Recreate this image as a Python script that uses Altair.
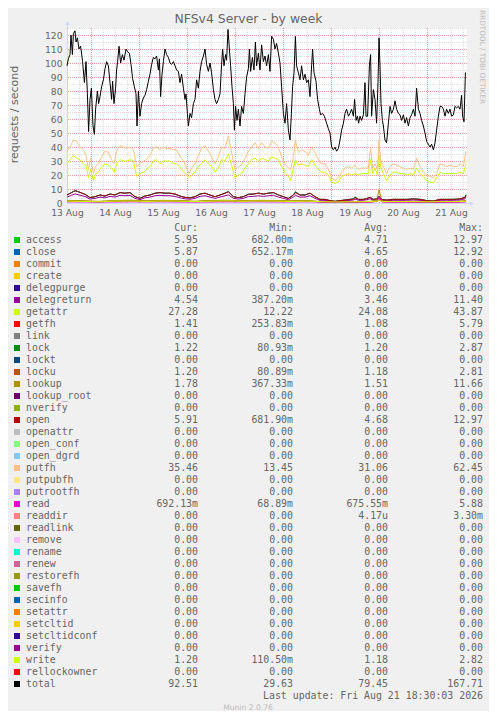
import json
import altair as alt
import pandas as pd

# ---------------- text ----------------
TITLE = "NFSv4 Server - by week"
Y_TITLE = "requests / second"
WATERMARK = "RRDTOOL / TOBI OETIKER"
FOOTER = "Munin 2.0.76"
LAST_UPDATE = "Last update: Fri Aug 21 18:30:03 2026"

# x axis: hours since 13 Aug 00:00; labels sit at noon of each day
X_LABELS = ["13 Aug", "14 Aug", "15 Aug", "16 Aug", "17 Aug", "18 Aug", "19 Aug", "20 Aug", "21 Aug"]
X_LABEL_HOURS = [12, 36, 60, 84, 108, 132, 156, 180, 204]
X_DOMAIN = [12, 212]
Y_TICKS = [0, 10, 20, 30, 40, 50, 60, 70, 80, 90, 100, 110, 120]
Y_DOMAIN = [0, 125]

# ---------------- legend table ----------------
HEADERS = ["Cur:", "Min:", "Avg:", "Max:"]
NAMES = ["access", "close", "commit", "create", "delegpurge", "delegreturn", "getattr", "getfh",
         "link", "lock", "lockt", "locku", "lookup", "lookup_root", "nverify", "open", "openattr",
         "open_conf", "open_dgrd", "putfh", "putpubfh", "putrootfh", "read", "readdir", "readlink",
         "remove", "rename", "renew", "restorefh", "savefh", "secinfo", "setattr", "setcltid",
         "setcltidconf", "verify", "write", "rellockowner", "total"]
COLORS = ["#00CC00", "#0066B3", "#FF8000", "#FFCC00", "#330099", "#990099", "#CCFF00", "#FF0000",
          "#808080", "#008F00", "#00487D", "#B35A00", "#B38F00", "#6B006B", "#8FB300", "#B30000",
          "#BEBEBE", "#80FF80", "#80C9FF", "#FFC080", "#FFE680", "#AA80FF", "#EE00CC", "#FF8080",
          "#666600", "#FFBFFF", "#00FFCC", "#CC6699", "#999900", "#00CC00", "#0066B3", "#FF8000",
          "#FFCC00", "#330099", "#990099", "#CCFF00", "#FF0000", "#000000"]
Z = "0.00"
CUR = ["5.95", "5.87", Z, Z, Z, "4.54", "27.28", "1.41", Z, "1.22", Z, "1.20", "1.78", Z, Z, "5.91",
       Z, Z, Z, "35.46", Z, Z, "692.13m", Z, Z, Z, Z, Z, Z, Z, Z, Z, Z, Z, Z, "1.20", Z, "92.51"]
MIN = ["682.00m", "652.17m", Z, Z, Z, "387.20m", "12.22", "253.83m", Z, "80.93m", Z, "80.89m",
       "367.33m", Z, Z, "681.90m", Z, Z, Z, "13.45", Z, Z, "68.89m", Z, Z, Z, Z, Z, Z, Z, Z, Z, Z,
       Z, Z, "110.50m", Z, "29.63"]
AVG = ["4.71", "4.65", Z, Z, Z, "3.46", "24.08", "1.08", Z, "1.20", Z, "1.18", "1.51", Z, Z, "4.68",
       Z, Z, Z, "31.06", Z, Z, "675.55m", "4.17u", Z, Z, Z, Z, Z, Z, Z, Z, Z, Z, Z, "1.18", Z, "79.45"]
MAX = ["12.97", "12.92", Z, Z, Z, "11.40", "43.87", "5.79", Z, "2.87", Z, "2.81", "11.66", Z, Z,
       "12.97", Z, Z, Z, "62.45", Z, Z, "5.88", "3.30m", Z, Z, Z, Z, Z, Z, Z, Z, Z, Z, Z, "2.82", Z,
       "167.71"]

# ---------------- series (hours since 13 Aug 00:00, requests/s) ----------------
TOTAL_H = [12.0, 12.7, 13.5, 14.0, 14.7, 15.2, 16.0, 16.5, 17.2, 18.0,
           18.8, 19.8, 20.7, 21.5, 22.2, 22.8, 23.5, 24.2, 25.0, 25.7,
           26.3, 27.2, 27.8, 28.5, 29.3, 30.2, 31.0, 31.8, 32.7, 33.5,
           34.3, 34.8, 35.5, 36.3, 36.8, 37.3, 38.0, 38.8, 39.7, 40.5,
           41.5, 42.3, 43.2, 44.0, 44.8, 45.7, 46.5, 47.0, 47.7, 48.5,
           49.3, 50.2, 51.0, 51.8, 52.7, 53.5, 54.3, 55.2, 56.0, 56.8,
           57.7, 58.2, 58.8, 59.5, 60.2, 61.0, 61.8, 62.7, 63.5, 64.3,
           65.2, 66.0, 66.8, 67.7, 68.5, 69.3, 70.2, 71.0, 71.5, 72.2,
           72.7, 73.5, 74.3, 75.2, 76.0, 76.8, 77.7, 78.5, 79.3, 80.2,
           81.0, 81.8, 82.7, 83.5, 84.3, 85.2, 86.0, 86.8, 87.7, 88.5,
           89.3, 89.8, 90.5, 91.3, 91.8, 92.5, 93.2, 93.8, 94.5, 95.2,
           95.7, 96.3, 97.0, 97.7, 98.5, 99.3, 100.2, 101.0, 101.8, 102.7,
           103.2, 103.8, 104.7, 105.5, 106.2, 106.8, 107.7, 108.5, 109.3, 110.2,
           111.0, 111.8, 112.7, 113.5, 114.3, 115.2, 116.0, 116.8, 117.7, 118.5,
           119.3, 120.2, 121.0, 121.8, 122.7, 123.5, 124.2, 124.8, 125.5, 126.2,
           126.8, 127.7, 128.5, 129.3, 130.2, 131.0, 131.8, 132.7, 133.5, 134.3,
           134.8, 135.5, 136.5, 137.3, 138.2, 138.8, 139.8, 140.7, 141.8, 142.7,
           143.5, 144.3, 145.2, 146.0, 146.8, 147.7, 148.5, 149.3, 150.2, 151.0,
           151.8, 152.7, 153.5, 154.3, 155.2, 155.8, 156.5, 157.2, 157.8, 158.5,
           159.3, 160.2, 161.0, 161.5, 162.3, 163.2, 163.8, 164.3, 165.2, 166.0,
           166.8, 167.5, 168.0, 168.5, 169.0, 169.7, 170.2, 171.0, 171.8, 172.7,
           173.5, 174.3, 175.2, 176.0, 176.8, 177.7, 178.5, 179.3, 180.2, 181.0,
           181.8, 182.7, 183.5, 184.3, 185.2, 186.0, 186.8, 187.7, 188.5, 189.3,
           190.2, 191.0, 191.8, 192.7, 193.5, 194.3, 195.2, 196.0, 196.8, 197.7,
           198.5, 199.3, 200.2, 201.0, 201.8, 202.7, 203.5, 204.3, 205.2, 206.0,
           206.8, 207.7, 208.5, 209.3, 209.8, 210.5, 211.2, 211.5]
TOTAL_V = [98, 103, 106, 120, 106, 121, 123, 115, 118, 110,
           112, 101, 86, 101, 78, 51, 74, 82, 55, 49,
           67, 80, 71, 76, 83, 88, 96, 101, 98, 86,
           74, 87, 71, 82, 95, 101, 112, 100, 106, 102,
           110, 108, 107, 99, 89, 83, 78, 55, 80, 62,
           71, 75, 77, 81, 87, 92, 99, 104, 103, 105,
           95, 103, 76, 92, 101, 110, 106, 104, 100, 99,
           101, 98, 95, 94, 86, 92, 82, 74, 78, 64,
           55, 64, 61, 71, 74, 88, 82, 94, 101, 105,
           110, 99, 94, 100, 93, 81, 74, 71, 74, 78,
           99, 110, 98, 106, 102, 124, 110, 98, 83, 71,
           52, 69, 59, 67, 55, 69, 64, 78, 90, 96,
           110, 94, 104, 95, 115, 98, 107, 95, 113, 101,
           105, 98, 106, 94, 119, 117, 110, 114, 107, 100,
           83, 64, 57, 71, 52, 45, 64, 83, 93, 119,
           98, 93, 88, 98, 88, 92, 86, 88, 76, 98,
           110, 93, 87, 74, 67, 63, 64, 62, 57, 53,
           50, 40, 38, 40, 37, 39, 45, 52, 57, 64,
           67, 62, 64, 67, 62, 74, 59, 62, 57, 62,
           59, 63, 86, 62, 62, 98, 106, 62, 81, 74,
           57, 86, 118, 98, 71, 59, 55, 45, 43, 57,
           69, 64, 67, 73, 67, 64, 63, 59, 63, 57,
           61, 55, 61, 63, 67, 62, 82, 67, 64, 59,
           55, 50, 44, 42, 40, 42, 38, 43, 52, 62,
           69, 69, 67, 62, 67, 64, 67, 62, 63, 69,
           68, 69, 67, 77, 62, 58, 93, 93]

MID_H = [12.0, 13.5, 15.2, 16.8, 18.5, 20.2, 21.5, 22.7, 23.8, 25.2,
         26.3, 27.7, 29.3, 31.0, 32.7, 34.3, 35.5, 36.8, 38.5, 40.2,
         41.8, 43.5, 45.2, 46.8, 48.5, 50.2, 51.8, 53.5, 55.2, 56.8,
         58.5, 60.2, 61.8, 63.5, 65.2, 66.8, 68.5, 70.2, 71.8, 73.0,
         74.3, 76.0, 77.7, 79.3, 81.0, 82.7, 84.3, 86.0, 87.7, 89.3,
         91.0, 92.7, 94.3, 96.0, 97.7, 99.3, 101.0, 102.7, 104.3, 106.0,
         107.7, 109.3, 111.0, 112.7, 114.3, 116.0, 117.7, 119.3, 121.0, 122.7,
         123.8, 125.2, 126.2, 127.7, 129.3, 131.0, 132.7, 134.3, 136.0, 137.7,
         139.3, 141.0, 142.7, 144.3, 146.0, 147.7, 149.3, 151.0, 152.7, 154.3,
         156.0, 157.7, 159.3, 161.0, 162.7, 163.8, 164.8, 166.0, 167.2, 168.0,
         168.8, 170.2, 171.8, 173.5, 175.2, 176.8, 178.5, 180.2, 181.8, 183.5,
         185.2, 186.8, 188.5, 190.2, 191.8, 193.5, 195.2, 196.8, 198.5, 200.2,
         201.8, 203.5, 205.2, 206.8, 208.5, 210.2, 211.5]
PUTFH_V = [37, 40, 45, 44, 40, 38, 34, 24, 32, 21,
           26, 28, 33, 37, 36, 31, 28, 37, 41, 40,
           39, 40, 38, 26, 28, 30, 31, 34, 39, 40,
           38, 40, 39, 39, 38, 38, 33, 30, 25, 21,
           25, 28, 34, 39, 41, 37, 33, 28, 33, 40,
           39, 48, 36, 24, 26, 27, 32, 37, 40, 43,
           39, 43, 40, 39, 44, 43, 40, 33, 28, 25,
           24, 33, 45, 36, 38, 37, 34, 40, 36, 31,
           28, 28, 24, 18, 16, 18, 22, 25, 26, 25,
           27, 24, 25, 25, 25, 39, 25, 28, 24, 45,
           31, 26, 21, 26, 28, 27, 26, 25, 24, 25,
           24, 32, 26, 22, 20, 19, 18, 21, 28, 27,
           26, 27, 26, 26, 28, 26, 37]
GETATTR_V = [28, 31, 34, 32, 31, 28, 27, 18, 24, 16,
             21, 22, 26, 28, 27, 25, 22, 28, 31, 30,
             30, 31, 30, 19, 21, 22, 24, 26, 30, 31,
             28, 30, 30, 30, 28, 28, 26, 22, 20, 18,
             20, 22, 26, 28, 31, 28, 26, 22, 25, 31,
             30, 35, 27, 18, 20, 21, 25, 28, 31, 32,
             30, 32, 31, 30, 33, 32, 31, 26, 22, 19,
             16, 25, 31, 27, 28, 27, 26, 31, 27, 24,
             22, 22, 20, 15, 14, 15, 19, 20, 21, 20,
             21, 20, 21, 21, 21, 31, 21, 25, 20, 35,
             26, 21, 16, 20, 22, 22, 21, 21, 20, 21,
             20, 25, 21, 19, 16, 15, 14.5, 18, 22, 21,
             21, 21, 21, 21, 22, 21, 28]

SMALL_H = [12.0, 14.3, 16.0, 18.5, 21.0, 23.5, 26.0, 28.5, 31.0, 33.5,
           36.0, 38.5, 41.0, 43.5, 46.0, 48.5, 51.0, 53.5, 56.0, 58.5,
           61.0, 63.5, 66.0, 68.5, 71.0, 73.5, 76.0, 78.5, 81.0, 83.5,
           86.0, 88.5, 91.0, 92.7, 95.2, 97.7, 100.2, 102.7, 105.2, 107.7,
           110.2, 112.7, 115.2, 117.7, 120.2, 122.7, 125.2, 126.2, 128.5, 131.0,
           133.5, 136.0, 138.5, 141.0, 143.5, 146.0, 148.5, 151.0, 153.5, 155.2,
           156.0, 157.7, 160.2, 161.8, 163.5, 165.2, 166.8, 168.0, 169.3, 171.8,
           175.2, 178.5, 181.8, 185.2, 188.5, 191.8, 195.2, 198.5, 201.8, 205.2,
           208.5, 211.0, 211.5]
OPEN_V = [5.7, 7.4, 8.8, 7.6, 6.2, 3.8, 4.5, 5.7, 5.0, 6.4,
          5.7, 7.4, 7.0, 7.4, 4.5, 3.3, 5.0, 5.7, 7.0, 7.4,
          7.0, 7.0, 6.4, 5.0, 4.0, 3.6, 4.5, 6.4, 7.0, 5.7,
          4.5, 5.7, 7.0, 7.9, 4.5, 3.8, 4.5, 6.2, 6.4, 7.0,
          6.4, 7.0, 7.4, 5.7, 4.5, 3.3, 5.7, 7.4, 5.7, 5.7,
          7.0, 4.5, 2.6, 2.6, 1.7, 1.2, 1.7, 2.1, 2.6, 2.9,
          3.8, 2.6, 2.6, 3.1, 4.0, 2.6, 2.9, 4.5, 2.6, 2.1,
          2.6, 2.6, 2.6, 2.9, 2.6, 1.7, 1.4, 2.6, 2.6, 2.6,
          2.9, 4.0, 5.7]
ACCESS_V = [5.8, 7.5, 8.9, 7.6, 6.2, 3.8, 4.5, 5.8, 5.0, 6.4,
            5.8, 7.5, 7.0, 7.5, 4.5, 3.3, 5.0, 5.8, 7.0, 7.5,
            7.0, 7.0, 6.4, 5.0, 4.0, 3.6, 4.5, 6.5, 7.0, 5.7,
            4.5, 5.8, 7.1, 8.4, 4.5, 3.8, 4.6, 6.3, 6.4, 7.1,
            6.4, 7.1, 7.5, 5.7, 4.5, 3.3, 5.8, 8.1, 5.8, 5.7,
            7.1, 4.5, 2.6, 2.6, 1.7, 1.2, 1.7, 2.1, 2.6, 2.9,
            4.3, 2.6, 2.6, 3.2, 4.1, 2.6, 2.9, 5.0, 2.6, 2.1,
            2.7, 2.6, 2.6, 2.9, 2.7, 1.7, 1.4, 2.6, 2.6, 2.7,
            2.9, 4.1, 5.9]
CLOSE_V = [5.7, 7.4, 8.8, 7.6, 6.2, 3.8, 4.5, 5.7, 5.0, 6.4,
           5.7, 7.4, 7.0, 7.4, 4.5, 3.3, 5.0, 5.7, 7.0, 7.4,
           7.0, 7.0, 6.4, 5.0, 4.0, 3.6, 4.5, 6.4, 7.0, 5.7,
           4.5, 5.7, 7.0, 8.2, 4.5, 3.8, 4.5, 6.2, 6.4, 7.0,
           6.4, 7.0, 7.4, 5.7, 4.5, 3.3, 5.7, 7.9, 5.7, 5.7,
           7.0, 4.5, 2.6, 2.6, 1.7, 1.2, 1.7, 2.1, 2.6, 2.9,
           4.2, 2.6, 2.6, 3.1, 4.0, 2.6, 2.9, 4.9, 2.6, 2.1,
           2.6, 2.6, 2.6, 2.9, 2.6, 1.7, 1.4, 2.6, 2.6, 2.6,
           2.9, 4.0, 5.8]
DELEGRETURN_V = [4.2, 5.5, 6.5, 5.6, 4.6, 2.8, 3.3, 4.2, 3.7, 4.7,
                 4.2, 5.5, 5.2, 5.5, 3.3, 2.4, 3.7, 4.2, 5.2, 5.5,
                 5.2, 5.2, 4.7, 3.7, 3.0, 2.7, 3.3, 4.7, 5.2, 4.2,
                 3.3, 4.2, 5.2, 5.8, 3.3, 2.8, 3.3, 4.6, 4.7, 5.2,
                 4.7, 5.2, 5.5, 4.2, 3.3, 2.4, 4.2, 5.5, 4.2, 4.2,
                 5.2, 3.3, 1.9, 1.9, 1.3, 0.9, 1.3, 1.6, 1.9, 2.1,
                 2.8, 1.9, 1.9, 2.3, 3.0, 1.9, 2.1, 3.3, 1.9, 1.6,
                 1.9, 1.9, 1.9, 2.1, 1.9, 1.3, 1.0, 1.9, 1.9, 1.9,
                 2.1, 3.0, 4.2]

LOW_H = [12, 20, 28, 36, 44, 52, 60, 68, 76, 84,
         92, 100, 108, 116, 124, 132, 140, 148, 156, 164,
         167, 168, 169.5, 176, 184, 192, 200, 208, 211.5]
GETFH_V = [1.5, 1.2, 1.0, 1.4, 1.6, 1.2, 1.5, 1.4, 1.0, 1.4,
           1.6, 1.3, 1.5, 1.4, 1.2, 1.4, 0.7, 0.5, 0.7, 0.8,
           1.0, 2.5, 0.8, 0.7, 0.7, 0.5, 0.6, 0.7, 1.4]
LOCK_V = [1.4, 1.2, 0.9, 1.4, 1.5, 1.2, 1.5, 1.4, 1.0, 1.4,
          1.6, 1.3, 1.5, 1.4, 1.2, 1.4, 0.9, 0.7, 0.9, 1.1,
          1.4, 2.3, 1.1, 1.0, 1.1, 0.8, 1.0, 1.1, 1.2]
LOCKU_V = [1.4, 1.2, 0.9, 1.3, 1.5, 1.2, 1.5, 1.3, 1.0, 1.4,
           1.6, 1.3, 1.5, 1.4, 1.2, 1.3, 0.9, 0.7, 0.9, 1.1,
           1.4, 2.2, 1.1, 1.0, 1.1, 0.8, 1.0, 1.1, 1.2]
LOOKUP_V = [1.9, 1.6, 1.2, 1.8, 2.0, 1.5, 1.9, 1.7, 1.3, 1.8,
            2.0, 1.6, 1.9, 1.8, 1.5, 1.7, 1.0, 0.8, 1.0, 1.2,
            2.5, 9.3, 1.5, 1.0, 1.1, 0.9, 1.0, 1.1, 1.8]
READ_V = [0.8, 0.7, 0.6, 0.7, 0.8, 0.7, 0.8, 0.7, 0.6, 0.7,
          0.8, 0.7, 0.8, 0.7, 0.7, 0.8, 0.6, 0.5, 0.6, 0.6,
          1.2, 4.5, 0.8, 0.6, 0.6, 0.5, 0.6, 0.6, 0.7]
WRITE_V = [1.3, 1.1, 0.9, 1.3, 1.4, 1.1, 1.4, 1.3, 1.0, 1.3,
           1.5, 1.2, 1.4, 1.3, 1.1, 1.3, 0.9, 0.7, 0.9, 1.0,
           1.3, 2.2, 1.1, 1.0, 1.0, 0.8, 1.0, 1.0, 1.2]

# draw order follows the legend order; total on top
SERIES = [
    ("access", SMALL_H, ACCESS_V),
    ("close", SMALL_H, CLOSE_V),
    ("delegreturn", SMALL_H, DELEGRETURN_V),
    ("getattr", MID_H, GETATTR_V),
    ("getfh", LOW_H, GETFH_V),
    ("lock", LOW_H, LOCK_V),
    ("locku", LOW_H, LOCKU_V),
    ("lookup", LOW_H, LOOKUP_V),
    ("open", SMALL_H, OPEN_V),
    ("putfh", MID_H, PUTFH_V),
    ("read", LOW_H, READ_V),
    ("write", LOW_H, WRITE_V),
    ("total", TOTAL_H, TOTAL_V),
]

# ---------------- styling ----------------
SANS = "DejaVu Sans"
MONO = "DejaVu Sans Mono"
FG = "#666666"
AXIS_C = "#CFD6F8"
W, H = 400, 175

label_expr = json.dumps(X_LABELS) + "[round((datum.value - 12) / 24)]"

x_axis = alt.Axis(values=X_LABEL_HOURS, labelExpr=label_expr, title=None, grid=False,
                  ticks=False, tickSize=0, labelFont=SANS, labelFontSize=9.2, labelColor=FG,
                  labelPadding=5, domainColor=AXIS_C, labelFlush=False, labelOverlap=False)
y_axis = alt.Axis(values=Y_TICKS, title=Y_TITLE, grid=False, ticks=False, tickSize=0,
                  labelFont=SANS, labelFontSize=9.2, labelColor=FG, labelPadding=5,
                  domainColor=AXIS_C, labelFlush=False, labelOverlap=False,
                  titleFont=SANS, titleFontSize=11, titleColor=FG, titleFontWeight="normal",
                  titleX=-53, titleY=86, titleAngle=270, titleAlign="center",
                  titleBaseline="middle")

X = alt.X("h:Q", scale=alt.Scale(domain=X_DOMAIN, nice=False, zero=False), axis=x_axis)
Y = alt.Y("v:Q", scale=alt.Scale(domain=Y_DOMAIN, nice=False, zero=True), axis=y_axis)

# grid positions (rrdtool week grid: minor 6 h / 5 units, major 24 h / 10 units)
minor_h = [h for h in range(18, 212, 6) if h % 24 != 0]
major_h = [h for h in range(24, 212, 24)]
minor_v = [v for v in range(5, 126, 10)]
major_v = [v for v in range(10, 121, 10)]

MINOR = dict(color="#8F8F8F", opacity=0.3, strokeWidth=1, strokeDash=[1, 1])
MAJOR = dict(color="#E65050", opacity=0.6, strokeWidth=1, strokeDash=[1, 1])

plot_layers = [
    alt.Chart(pd.DataFrame({"h": minor_h})).mark_rule(xOffset=0.5, **MINOR).encode(x=X),
    alt.Chart(pd.DataFrame({"v": minor_v})).mark_rule(yOffset=0.5, **MINOR).encode(y=Y),
    alt.Chart(pd.DataFrame({"h": major_h})).mark_rule(xOffset=0.5, **MAJOR).encode(x=X),
    alt.Chart(pd.DataFrame({"v": major_v})).mark_rule(yOffset=0.5, **MAJOR).encode(y=Y),
]

one = pd.DataFrame({"a": [0]})
# axis extensions and arrow heads
plot_layers += [
    alt.Chart(one).mark_rule(color=AXIS_C, strokeWidth=1, xOffset=0.5).encode(
        x=alt.value(0), y=alt.value(-4), y2=alt.value(H)),
    alt.Chart(one).mark_rule(color=AXIS_C, strokeWidth=1, yOffset=0.5).encode(
        x=alt.value(0), x2=alt.value(W + 4), y=alt.value(H)),
    alt.Chart(one).mark_point(shape="triangle-up", size=22, filled=True, opacity=1,
                              color=AXIS_C).encode(x=alt.value(0.5), y=alt.value(-5)),
    alt.Chart(one).mark_point(shape="triangle-right", size=22, filled=True, opacity=1,
                              color=AXIS_C).encode(x=alt.value(W + 5), y=alt.value(H + 0.5)),
]

color_of = dict(zip(NAMES, COLORS))
for name, hs, vs in SERIES:
    df = pd.DataFrame({"h": hs, "v": vs})
    plot_layers.append(
        alt.Chart(df).mark_line(color=color_of[name], strokeWidth=1, interpolate="linear")
        .encode(x=X, y=Y)
    )

plot_layers += [
    alt.Chart(pd.DataFrame({"t": [TITLE]})).mark_text(
        font=SANS, fontSize=12.4, color=FG, align="center", baseline="middle").encode(
        x=alt.value(181.5), y=alt.value(-9), text="t:N"),
    alt.Chart(pd.DataFrame({"t": [WATERMARK]})).mark_text(
        font=SANS, fontSize=7.3, color="#BBBBBB", align="center", baseline="middle",
        angle=90).encode(x=alt.value(415), y=alt.value(29), text="t:N"),
]

plot = alt.layer(*plot_layers)

# ---------------- legend table ----------------
NBSP = "\u00a0"


def cell(s):
    return s if s[-1].isalpha() else s + NBSP


row_y = alt.Y("row:Q", scale=alt.Scale(domain=[-1, 39], range=[200, 680]), axis=None)
leg = pd.DataFrame({"row": list(range(len(NAMES))), "name": NAMES, "col": COLORS})

legend_layers = [
    alt.Chart(leg).mark_square(size=36, filled=True, opacity=1, strokeWidth=0).encode(
        x=alt.value(-50), y=row_y, color=alt.Color("col:N", scale=None)),
    alt.Chart(leg).mark_text(font=MONO, fontSize=9.9, color=FG, align="left",
                             baseline="middle").encode(x=alt.value(-41), y=row_y, text="name:N"),
]
for head, vals, xr in zip(HEADERS, [CUR, MIN, AVG, MAX], [131, 226, 321, 416]):
    dfc = pd.DataFrame({"row": [-1] + list(range(len(vals))),
                        "t": [head + NBSP + NBSP] + [cell(v) for v in vals]})
    legend_layers.append(
        alt.Chart(dfc).mark_text(font=MONO, fontSize=9.9, color=FG, align="right",
                                 baseline="middle").encode(x=alt.value(xr), y=row_y, text="t:N"))

legend_layers += [
    alt.Chart(pd.DataFrame({"row": [38], "t": [LAST_UPDATE]})).mark_text(
        font=MONO, fontSize=9.9, color=FG, align="right", baseline="middle").encode(
        x=alt.value(416), y=row_y, text="t:N"),
    alt.Chart(pd.DataFrame({"row": [39], "t": [FOOTER]})).mark_text(
        font=SANS, fontSize=7.6, color="#BBBBBB", align="center", baseline="middle").encode(
        x=alt.value(181), y=row_y, text="t:N"),
]
legend = alt.layer(*legend_layers)

chart = (
    alt.layer(plot, legend)
    .resolve_scale(y="independent")
    .properties(
        width=W, height=H,
        autosize=alt.AutoSizeParams(type="none"),
        padding={"left": 59, "top": 20, "right": 22, "bottom": 508},
        background="#F0F0F0",
    )
    .configure_view(stroke=None, fill="#FFFFFF")
)

chart.save("out.html", embed_options={"renderer": "svg", "actions": False})
